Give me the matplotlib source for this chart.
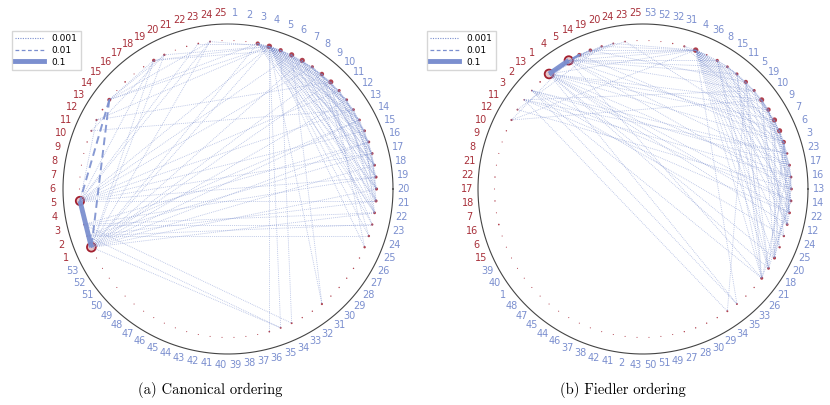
import numpy as np
import matplotlib
matplotlib.use("Agg")
import matplotlib.pyplot as plt
from matplotlib.lines import Line2D

# node orderings (clockwise, starting at the first red node)
canon_red = list(range(1, 26))
canon_blue = list(range(1, 54))
fiedler_red = [15, 6, 16, 7, 18, 17, 22, 21, 8, 9, 10, 12, 11, 3, 2, 13, 1, 4, 5, 14, 19, 20, 24, 23, 25]
fiedler_blue = [53, 52, 32, 31, 4, 36, 8, 15, 11, 5, 19, 10, 9, 7, 6, 3, 23, 17, 16, 13, 14, 22, 12, 24, 25,
                20, 18, 21, 26, 33, 35, 34, 29, 30, 28, 27, 49, 51, 50, 43, 2, 41, 42, 38, 37, 46, 44, 45,
                47, 48, 1, 40, 39]

# node weights (marker area)
red_size = [40, 1.5, 1.5, 0.6, 36, 0.6, 0.6, 0.6, 0.6, 1, 2, 2.5, 1.5, 8, 0.6, 1.5, 0.6, 1, 6, 3,
            0.6, 1, 1.5, 2, 0.6]
blue_size = [0.6, 0.6, 9, 16, 9, 14, 14, 5, 10, 13, 5, 4, 4, 4, 4, 4, 4, 4, 5, 5, 5, 4, 3, 3, 3,
             1, 1, 1, 1, 1, 2.5, 1, 1, 2, 2, 1.5, 0.6, 0.6, 0.6, 0.6, 0.6, 0.6, 0.6, 0.6, 0.6, 0.6,
             0.6, 0.6, 0.6, 0.6, 0.6, 0.6, 0.6]

# edges
edges_01 = [("r1", "r5")]
edges_001 = [("r14", "r1"), ("r14", "r5")]
edges_0001 = [
    ("r1", "b3"), ("r1", "b4"), ("r1", "b7"), ("r1", "b9"), ("r1", "b10"), ("r1", "b12"), ("r1", "b14"),
    ("r1", "b16"), ("r1", "b18"), ("r1", "b20"), ("r1", "b22"), ("r1", "b35"), ("r1", "r19"),
    ("r1", "r20"), ("r1", "r24"),
    ("r5", "b4"), ("r5", "b6"), ("r5", "b8"), ("r5", "b11"), ("r5", "b13"), ("r5", "b15"), ("r5", "b17"),
    ("r5", "b19"), ("r5", "b21"), ("r5", "r19"), ("r5", "r23"), ("r5", "r24"), ("r5", "r12"),
    ("r2", "b23"), ("r2", "b24"), ("r2", "b14"), ("r2", "b17"), ("r2", "b21"), ("r2", "b35"),
    ("r3", "b23"), ("r3", "b22"), ("r3", "b16"), ("r3", "b19"), ("r3", "b34"),
    ("r12", "b4"), ("r12", "b10"), ("r11", "r20"), ("r11", "b13"),
    ("r14", "b3"), ("r14", "b4"), ("r14", "r19"), ("r14", "r20"), ("r14", "r24"),
    ("r19", "b4"), ("r19", "b5"), ("r20", "b4"), ("r23", "b3"), ("r24", "b4"),
    ("b4", "b3"), ("b4", "b5"), ("b4", "b6"), ("b4", "b7"), ("b4", "b8"), ("b4", "b9"), ("b4", "b10"),
    ("b4", "b11"), ("b4", "b12"), ("b4", "b13"), ("b4", "b14"), ("b4", "b15"), ("b4", "b16"),
    ("b4", "b17"), ("b4", "b18"), ("b4", "b19"), ("b4", "b20"), ("b4", "b21"), ("b4", "b22"),
    ("b4", "b23"), ("b4", "b24"), ("b4", "b25"), ("b4", "b35"), ("b4", "b31"), ("b4", "b36"),
    ("b3", "b6"), ("b3", "b8"), ("b3", "b10"), ("b3", "b12"), ("b3", "b14"), ("b3", "b16"),
    ("b3", "b18"), ("b3", "b20"), ("b3", "b22"),
    ("b5", "b9"), ("b5", "b12"), ("b5", "b15"), ("b5", "b18"), ("b5", "b21"), ("b5", "b34"),
    ("b6", "b10"), ("b6", "b13"), ("b6", "b16"), ("b6", "b19"), ("b6", "b22"), ("b6", "b31"),
    ("b7", "b11"), ("b7", "b14"), ("b7", "b17"), ("b7", "b20"), ("b7", "b23"),
    ("b8", "b12"), ("b8", "b15"), ("b8", "b18"), ("b8", "b21"),
    ("b9", "b13"), ("b9", "b16"), ("b9", "b19"), ("b9", "b22"), ("b9", "b24"),
    ("b10", "b14"), ("b10", "b17"), ("b10", "b20"), ("b10", "b25"),
    ("b11", "b15"), ("b11", "b18"), ("b11", "b21"),
    ("b12", "b16"), ("b12", "b19"), ("b12", "b22"),
    ("b13", "b17"), ("b13", "b20"), ("b14", "b18"), ("b14", "b21"),
    ("b15", "b19"), ("b15", "b22"), ("b16", "b20"), ("b17", "b21"),
]

RED = "#a3202f"
RED_LABEL = "#a8303a"
BLUE = "#7b8fcf"
N = 78


def draw(ax, red_order, blue_order):
    order = [("r%d" % k) for k in red_order] + [("b%d" % k) for k in blue_order]
    ang = np.deg2rad(90 + (24.5 - np.arange(N)) * 360.0 / N)
    pos = {name: (0.9 * np.cos(a), 0.9 * np.sin(a)) for name, a in zip(order, ang)}

    t = np.linspace(0, 2 * np.pi, 400)
    ax.plot(np.cos(t), np.sin(t), color="#444444", lw=0.8, zorder=1)

    # nodes
    sizes = [red_size[int(n[1:]) - 1] if n[0] == "r" else blue_size[int(n[1:]) - 1] for n in order]
    xy = np.array([pos[n] for n in order])
    big = np.array(sizes) > 20
    ax.scatter(xy[~big, 0], xy[~big, 1], s=np.array(sizes)[~big], color=RED, alpha=0.85,
               linewidths=0, zorder=2)
    ax.scatter(xy[big, 0], xy[big, 1], s=np.array(sizes)[big], facecolor=(0.64, 0.13, 0.18, 0.25),
               edgecolor=RED, linewidths=1.3, zorder=2)

    for a, b in edges_0001:
        ax.plot([pos[a][0], pos[b][0]], [pos[a][1], pos[b][1]], color=BLUE, lw=0.6,
                ls=(0, (1, 1.3)), alpha=0.6, zorder=3)
    for a, b in edges_001:
        ax.plot([pos[a][0], pos[b][0]], [pos[a][1], pos[b][1]], color=BLUE, lw=1.4,
                ls=(0, (4, 2.5)), alpha=0.9, zorder=3)
    for a, b in edges_01:
        ax.plot([pos[a][0], pos[b][0]], [pos[a][1], pos[b][1]], color=BLUE, lw=3.5,
                alpha=0.95, zorder=3, solid_capstyle="butt")

    # labels
    for name, a in zip(order, ang):
        c = RED_LABEL if name[0] == "r" else BLUE
        ax.text(1.065 * np.cos(a), 1.065 * np.sin(a), name[1:], color=c, fontsize=7,
                ha="center", va="center")

    ax.set_xlim(-228 / 165, 187 / 165)
    ax.set_ylim(-191 / 165, 189 / 165)
    ax.axis("off")


fig = plt.figure(figsize=(8.3, 4.05), dpi=100)
ax1 = fig.add_axes([0, 25 / 405, 415 / 830, 380 / 405])
ax2 = fig.add_axes([415 / 830, 25 / 405, 415 / 830, 380 / 405])
draw(ax1, canon_red, canon_blue)
draw(ax2, fiedler_red, fiedler_blue)

handles = [
    Line2D([], [], color=BLUE, lw=0.8, ls=(0, (1, 1.2))),
    Line2D([], [], color=BLUE, lw=0.9, ls=(0, (3, 2))),
    Line2D([], [], color=BLUE, lw=3.5),
]
labels = ["0.001", "0.01", "0.1"]
for x0 in (7, 422):
    fig.legend(handles, labels, loc="upper left", bbox_to_anchor=(x0 / 830, 1 - 26 / 405),
               fontsize=6.5, frameon=True, fancybox=False, edgecolor="#cccccc",
               handlelength=3.2, borderpad=0.4, labelspacing=0.3, handletextpad=0.8)

fig.text(210 / 830, 1 - 390 / 405, "(a) Canonical ordering", ha="center", va="center",
         family="cmr10", fontsize=10.5)
fig.text(623 / 830, 1 - 390 / 405, "(b) Fiedler ordering", ha="center", va="center",
         family="cmr10", fontsize=10.5)

fig.savefig("out.png", dpi=100)
